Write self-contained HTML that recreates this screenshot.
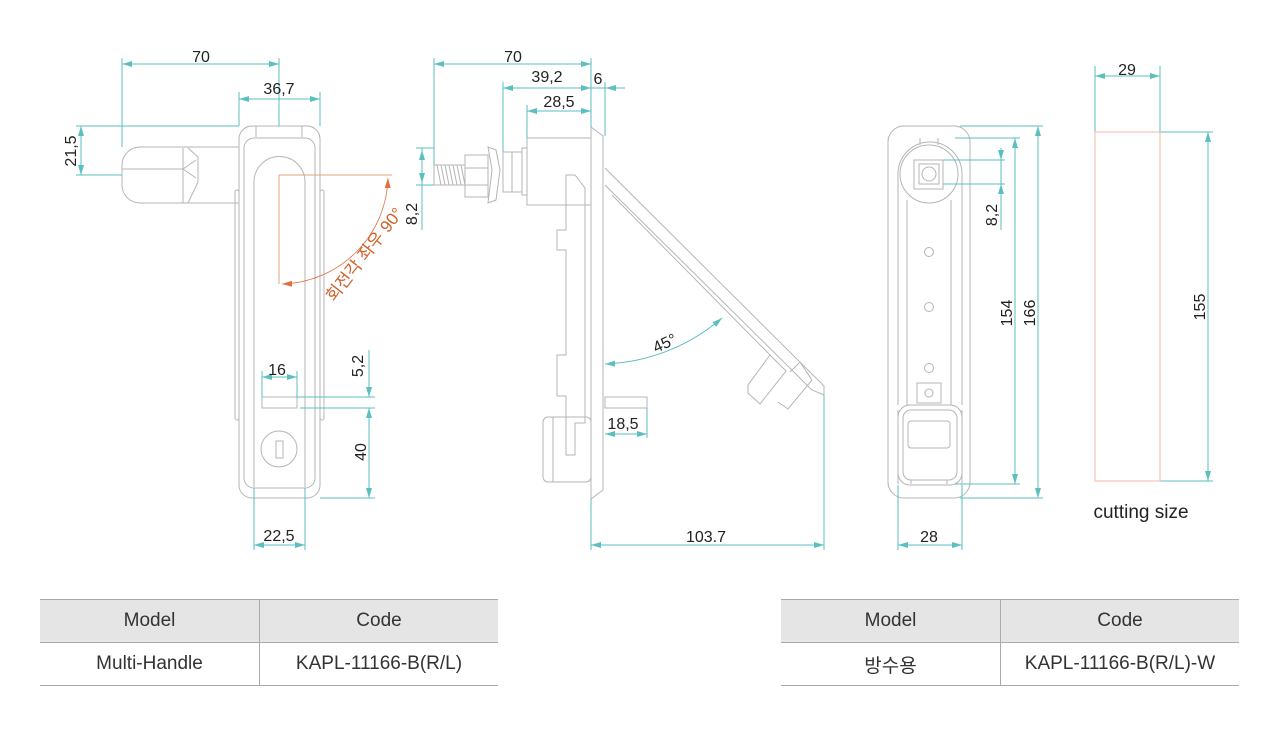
<!DOCTYPE html>
<html><head><meta charset="utf-8"><style>
html,body{margin:0;padding:0;background:#fff;width:1280px;height:735px;overflow:hidden}
svg{position:absolute;left:0;top:0}
text{font-family:"Liberation Sans","Noto Sans CJK KR",sans-serif;fill:#222;font-size:16px}
table{position:absolute;border-collapse:collapse;font-family:"Liberation Sans","Noto Sans CJK KR",sans-serif;font-size:19px;color:#333}
td{border-top:1px solid #aaa;border-bottom:1px solid #aaa;text-align:center;height:42px;padding:0}
td+td{border-left:1px solid #aaa}
tr.h td{background:#e5e5e5}
</style></head><body>
<svg width="1280" height="735" viewBox="0 0 1280 735">
<defs>
<marker id="a" viewBox="0 0 10 6" refX="10" refY="3" markerWidth="10" markerHeight="6" orient="auto-start-reverse" markerUnits="userSpaceOnUse"><path d="M0,0L10,3L0,6z" fill="#5bbfc0"/></marker>
<marker id="o" viewBox="0 0 10 6" refX="10" refY="3" markerWidth="10" markerHeight="6" orient="auto-start-reverse" markerUnits="userSpaceOnUse"><path d="M0,0L10,3L0,6z" fill="#e07040"/></marker>
</defs>
<!-- LEFT VIEW -->
<g fill="none" stroke="#b5b5b5" stroke-width="1">
<rect x="239" y="126" width="81" height="372" rx="13"/>
<rect x="244" y="138" width="71" height="350" rx="10"/>
<path d="M254,487 V182 a25,25 0 0 1 51,0 V487"/>
<path d="M256,126 V137 M302,126 V137"/>
<path d="M239,147 H140 a18,18 0 0 0 -18,18 V185 a18,18 0 0 0 18,18 H239"/>
<path d="M122,169 H183 L196,160 M183,169 L196,178 M188,148 L198,157 V182 L188,203 M183,148 V203"/>
<rect x="235" y="190" width="4" height="230" rx="2"/>
<rect x="320" y="190" width="4" height="230" rx="2"/>
<rect x="262" y="397" width="35" height="11"/>
<circle cx="279" cy="449" r="18"/>
<rect x="276" y="441" width="7" height="17"/>
</g>
<g stroke="#5bbfc0" stroke-width="1" fill="none">
<line x1="122" y1="58" x2="122" y2="147"/><line x1="279" y1="58" x2="279" y2="126"/>
<line x1="122" y1="64" x2="279" y2="64" marker-start="url(#a)" marker-end="url(#a)"/>
<line x1="239" y1="92" x2="239" y2="126"/><line x1="320" y1="92" x2="320" y2="126"/>
<line x1="239" y1="99" x2="320" y2="99" marker-start="url(#a)" marker-end="url(#a)"/>
<line x1="76" y1="126" x2="239" y2="126"/><line x1="76" y1="175" x2="122" y2="175"/>
<line x1="81" y1="126" x2="81" y2="175" marker-start="url(#a)" marker-end="url(#a)"/>
<line x1="262" y1="371" x2="262" y2="397"/><line x1="297" y1="371" x2="297" y2="397"/>
<line x1="262" y1="377" x2="297" y2="377" marker-start="url(#a)" marker-end="url(#a)"/>
<line x1="297" y1="397" x2="375" y2="397"/><line x1="300" y1="408" x2="375" y2="408"/>
<line x1="369" y1="350" x2="369" y2="397" marker-end="url(#a)"/>
<line x1="369" y1="408" x2="369" y2="498" marker-start="url(#a)" marker-end="url(#a)"/>
<line x1="320" y1="498" x2="375" y2="498"/>
<line x1="254" y1="488" x2="254" y2="550"/><line x1="305" y1="488" x2="305" y2="550"/>
<line x1="254" y1="545" x2="305" y2="545" marker-start="url(#a)" marker-end="url(#a)"/>
</g>
<g stroke="#e8a080" fill="none">
<line x1="279" y1="175" x2="279" y2="284"/><line x1="279" y1="175" x2="392" y2="175"/>
<path d="M282,284 A109,109 0 0 0 388,178" stroke="#e07040" marker-start="url(#o)" marker-end="url(#o)" stroke-width="0.8"/>
</g>
<text x="201" y="62" text-anchor="middle">70</text>
<text x="279" y="94" text-anchor="middle">36,7</text>
<text transform="translate(76,151) rotate(-90)" text-anchor="middle">21,5</text>
<text transform="translate(369,258) rotate(-52)" text-anchor="middle" style="fill:#d0602a;font-size:17px">회전각 좌우 90°</text>
<text x="277" y="375" text-anchor="middle">16</text>
<text transform="translate(363,366) rotate(-90)" text-anchor="middle">5,2</text>
<text transform="translate(366,452) rotate(-90)" text-anchor="middle">40</text>
<text x="279" y="541" text-anchor="middle">22,5</text>
<!-- MIDDLE VIEW -->
<g fill="none" stroke="#b5b5b5">
<path d="M591,127 L603,136 V490 L591,499 Z"/>
<rect x="527" y="138" width="64" height="67"/>
<rect x="522" y="148" width="5" height="47"/>
<rect x="503" y="152" width="19" height="40"/><path d="M512,152V192"/>
<path d="M488,147 L496,150 L500,170 L496,200 L488,203 L492,170 Z"/>
<rect x="465" y="155" width="23" height="42"/><path d="M465,168H488M465,185H488"/>
<rect x="434" y="165" width="31" height="20"/>
<path d="M437,165L441,185M441,165L445,185M445,165L449,185M449,165L453,185M453,165L457,185M457,165L461,185M461,165L465,185"/>
<path d="M575,175 L585,188 V423 H575 V455 H566 V396 H557 V355 H566 V250 H557 V230 H566 V175 Z"/>
<rect x="543" y="417" width="48" height="65" rx="5"/><path d="M553,417V482"/>
<rect x="605" y="397" width="42" height="11"/>
<path d="M605,168 L824,386 V395 L812,390 L605,185"/>
<path d="M612,195 L770,355"/>
<path d="M770,355 L786,371 L760,404 L748,393 V385 Z"/>
<path d="M790,372 L800,362 L812,380 L788,409 L778,402"/>
</g>
<g stroke="#5bbfc0" fill="none">
<line x1="434" y1="58" x2="434" y2="165"/><line x1="591" y1="58" x2="591" y2="127"/>
<line x1="434" y1="64" x2="591" y2="64" marker-start="url(#a)" marker-end="url(#a)"/>
<line x1="503" y1="82" x2="503" y2="152"/>
<line x1="503" y1="88" x2="591" y2="88" marker-start="url(#a)" marker-end="url(#a)"/>
<line x1="605" y1="82" x2="605" y2="136"/>
<line x1="591" y1="88" x2="625" y2="88"/>
<line x1="620" y1="88" x2="606" y2="88" marker-end="url(#a)"/>
<line x1="527" y1="105" x2="527" y2="138"/>
<line x1="527" y1="111" x2="591" y2="111" marker-start="url(#a)" marker-end="url(#a)"/>
<line x1="416" y1="148" x2="434" y2="148"/><line x1="416" y1="185" x2="434" y2="185"/>
<line x1="422" y1="148" x2="422" y2="230"/>
<line x1="422" y1="150" x2="422" y2="183" marker-start="url(#a)" marker-end="url(#a)"/>
<path d="M605,364 A190,190 0 0 0 722,318" marker-start="url(#a)" marker-end="url(#a)"/>
<line x1="647" y1="408" x2="647" y2="438"/>
<line x1="605" y1="434" x2="647" y2="434" marker-start="url(#a)" marker-end="url(#a)"/>
<line x1="591" y1="499" x2="591" y2="550"/><line x1="824" y1="395" x2="824" y2="550"/>
<line x1="591" y1="545" x2="824" y2="545" marker-start="url(#a)" marker-end="url(#a)"/>
</g>
<text x="513" y="62" text-anchor="middle">70</text>
<text x="547" y="82" text-anchor="middle">39,2</text>
<text x="598" y="84" text-anchor="middle">6</text>
<text x="559" y="107" text-anchor="middle">28,5</text>
<text transform="translate(417,214) rotate(-90)" text-anchor="middle">8,2</text>
<text transform="translate(667,348) rotate(-25)" text-anchor="middle">45°</text>
<text x="623" y="429" text-anchor="middle">18,5</text>
<text x="706" y="542" text-anchor="middle">103.7</text>
<!-- RIGHT VIEW -->
<g fill="none" stroke="#b5b5b5">
<rect x="888" y="126" width="82" height="372" rx="16"/>
<path d="M898,484 V410 M962,484 V410"/>
<path d="M898,405 V174 a31,31 0 0 1 64,0 V405"/>
<path d="M920,138 V145 M938,138 V145"/>
<circle cx="929" cy="174" r="29"/>
<rect x="914" y="160" width="29" height="29"/>
<rect x="919" y="164" width="20" height="20"/>
<circle cx="929" cy="174" r="7"/>
<path d="M907,200 V405 M951,200 V405"/>
<circle cx="929" cy="252" r="4.5"/><circle cx="929" cy="307" r="4.5"/><circle cx="929" cy="368" r="4.5"/>
<rect x="917" y="383" width="24" height="20"/><circle cx="929" cy="393" r="4"/>
<rect x="898" y="405" width="64" height="80" rx="12"/>
<rect x="903" y="410" width="54" height="70" rx="8"/>
<rect x="908" y="421" width="42" height="27" rx="3"/>
<path d="M911,480V484M947,480V484"/>
</g>
<g stroke="#5bbfc0" fill="none">
<line x1="943" y1="160" x2="1005" y2="160"/><line x1="943" y1="184" x2="1005" y2="184"/>
<line x1="1001" y1="148" x2="1001" y2="230"/>
<line x1="1001" y1="148" x2="1001" y2="160" marker-end="url(#a)"/>
<line x1="1001" y1="196" x2="1001" y2="184" marker-end="url(#a)"/>
<line x1="955" y1="138" x2="1020" y2="138"/><line x1="955" y1="484" x2="1020" y2="484"/>
<line x1="1015" y1="138" x2="1015" y2="484" marker-start="url(#a)" marker-end="url(#a)"/>
<line x1="960" y1="126" x2="1043" y2="126"/><line x1="960" y1="498" x2="1043" y2="498"/>
<line x1="1038" y1="126" x2="1038" y2="498" marker-start="url(#a)" marker-end="url(#a)"/>
<line x1="898" y1="485" x2="898" y2="550"/><line x1="962" y1="485" x2="962" y2="550"/>
<line x1="898" y1="545" x2="962" y2="545" marker-start="url(#a)" marker-end="url(#a)"/>
<line x1="1095" y1="66" x2="1095" y2="132"/><line x1="1160" y1="66" x2="1160" y2="132"/>
<line x1="1095" y1="76" x2="1160" y2="76" marker-start="url(#a)" marker-end="url(#a)"/>
<line x1="1160" y1="132" x2="1213" y2="132"/><line x1="1160" y1="481" x2="1213" y2="481"/>
<line x1="1208" y1="132" x2="1208" y2="481" marker-start="url(#a)" marker-end="url(#a)"/>
</g>
<rect x="1095" y="132" width="65" height="349" fill="none" stroke="#f2b8a8"/>
<text transform="translate(997,215) rotate(-90)" text-anchor="middle">8,2</text>
<text transform="translate(1012,313) rotate(-90)" text-anchor="middle">154</text>
<text transform="translate(1035,313) rotate(-90)" text-anchor="middle">166</text>
<text x="929" y="542" text-anchor="middle">28</text>
<text x="1127" y="75" text-anchor="middle">29</text>
<text transform="translate(1205,307) rotate(-90)" text-anchor="middle">155</text>
<text x="1141" y="518" text-anchor="middle" style="font-size:19px">cutting size</text>
</svg>
<table style="left:40px;top:599px;width:458px">
<tr class="h"><td style="width:219px">Model</td><td>Code</td></tr>
<tr><td>Multi-Handle</td><td>KAPL-11166-B(R/L)</td></tr>
</table>
<table style="left:781px;top:599px;width:458px">
<tr class="h"><td style="width:219px">Model</td><td>Code</td></tr>
<tr><td>방수용</td><td>KAPL-11166-B(R/L)-W</td></tr>
</table>
</body></html>
